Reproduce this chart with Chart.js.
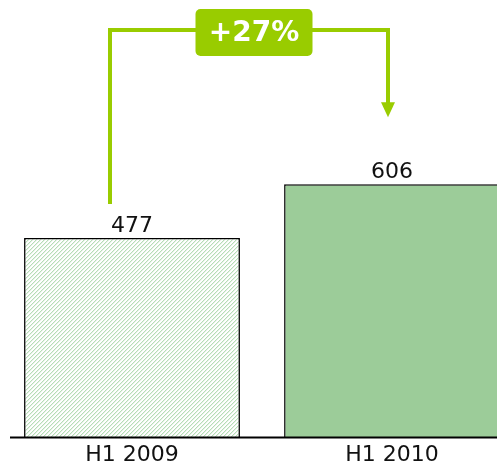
<!DOCTYPE html>
<html>
<head>
<meta charset="utf-8">
<style>
  html, body { margin: 0; padding: 0; background: #fff; overflow: hidden; }
  #wrap { width: 497px; height: 468px; overflow: hidden; }
  #wrap canvas { display: block; }
</style>
<script src="https://cdn.jsdelivr.net/npm/chart.js@4/dist/chart.umd.min.js"></script>
</head>
<body>
<div id="wrap"><canvas id="salesChart" width="530" height="468"></canvas></div>
<script>
const categories = ['H1 2009', 'H1 2010'];
const values = [477, 606];
const yTicks = [0, 1000];

// light green hatch for the first bar ("/" direction, 4px step)
function makeHatch() {
    const c = document.createElement('canvas');
    c.width = 4; c.height = 4;
    const g = c.getContext('2d');
    g.fillStyle = '#fff';
    g.fillRect(0, 0, 4, 4);
    for (let i = 0; i < 4; i++) {
        g.fillStyle = '#b6ddb6';
        g.fillRect(i, 3 - i, 1, 1);
        g.fillStyle = '#e6f3e6';
        g.fillRect((i + 1) % 4, 3 - i, 1, 1);
    }
    return document.getElementById('salesChart').getContext('2d').createPattern(c, 'repeat');
}

const valueLabels = {
    id: 'valueLabels',
    afterDatasetsDraw(chart) {
        const ctx = chart.ctx;
        const meta = chart.getDatasetMeta(0);
        const zeroY = chart.scales.y.getPixelForValue(0);
        ctx.save();
        // base line
        ctx.strokeStyle = '#000';
        ctx.lineWidth = 2;
        ctx.beginPath();
        ctx.moveTo(10, zeroY + 0.5);
        ctx.lineTo(chart.width, zeroY + 0.5);
        ctx.stroke();
        // values above bars
        ctx.fillStyle = '#111';
        ctx.font = '22px "DejaVu Sans"';
        ctx.textAlign = 'center';
        ctx.textBaseline = 'alphabetic';
        meta.data.forEach((bar, i) => {
            ctx.fillText(values[i], bar.x, bar.y - 6);
        });
        ctx.restore();
    }
};

const growthArrow = {
    id: 'growthArrow',
    afterDraw(chart) {
        const ctx = chart.ctx;
        const meta = chart.getDatasetMeta(0);
        const b1 = meta.data[0], b2 = meta.data[1];
        const lx = b1.x - 22, rx = b2.x - 4;
        const topY = chart.chartArea.top + 10;
        const tipY = b2.y - 67;
        const green = '#99cc00';
        ctx.save();
        ctx.strokeStyle = green;
        ctx.fillStyle = green;
        ctx.lineWidth = 4;
        ctx.beginPath();
        ctx.moveTo(lx, b1.y - 34);
        ctx.lineTo(lx, topY);
        ctx.lineTo(rx, topY);
        ctx.lineTo(rx, tipY - 14);
        ctx.stroke();
        ctx.beginPath();
        ctx.moveTo(rx - 7, tipY - 15);
        ctx.lineTo(rx + 7, tipY - 15);
        ctx.lineTo(rx, tipY);
        ctx.closePath();
        ctx.fill();
        // label box
        const cx = (lx + rx) / 2 + 5, w = 117, h = 47;
        const bx = cx - w / 2, by = topY - 21;
        ctx.beginPath();
        ctx.roundRect(bx, by, w, h, 5);
        ctx.fill();
        const pct = Math.round((values[1] / values[0] - 1) * 100);
        ctx.fillStyle = '#fff';
        ctx.font = 'bold 28px "DejaVu Sans"';
        ctx.textAlign = 'center';
        ctx.textBaseline = 'middle';
        ctx.fillText('+' + pct + '%', cx, by + h / 2 + 1);
        ctx.restore();
    }
};

new Chart(document.getElementById('salesChart'), {
    type: 'bar',
    data: {
        labels: categories,
        datasets: [{
            data: values,
            backgroundColor: [makeHatch(), '#9ccc99'],
            borderColor: '#000',
            borderWidth: 1.5,
            barPercentage: 0.83,
            categoryPercentage: 1
        }]
    },
    options: {
        responsive: false,
        animation: false,
        events: [],
        layout: { padding: { left: 2, right: 8, top: 20, bottom: 0 } },
        plugins: { legend: { display: false }, tooltip: { enabled: false } },
        scales: {
            x: {
                grid: { display: false, drawTicks: false },
                border: { display: false },
                ticks: {
                    color: '#111',
                    padding: 7,
                    font: { family: 'DejaVu Sans', size: 22, lineHeight: 1 }
                },
                afterFit(scale) { scale.height = 31; }
            },
            y: {
                display: false,
                min: yTicks[0],
                max: yTicks[1]
            }
        }
    },
    plugins: [valueLabels, growthArrow]
});
</script>
</body>
</html>
